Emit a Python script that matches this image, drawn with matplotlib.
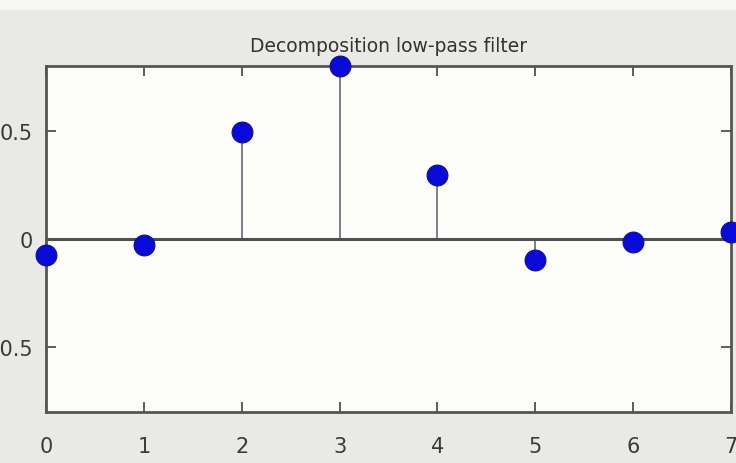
import numpy as np
import matplotlib.pyplot as plt
from matplotlib.patches import Rectangle

# sym4-like decomposition low-pass filter coefficients
taps = [0, 1, 2, 3, 4, 5, 6, 7]
coeffs = [-0.076, -0.030, 0.498, 0.804, 0.298, -0.099, -0.013, 0.032]
x_ticks = [0, 1, 2, 3, 4, 5, 6, 7]
y_ticks = [-0.5, 0, 0.5]
y_labels = ['-0.5', '0', '0.5']

fig = plt.figure(figsize=(7.36, 4.64), dpi=100)
fig.patch.set_facecolor('#e9e9e7')
# lighter strip along the very top of the frame
fig.patches.append(Rectangle((0, 1 - 11 / 464), 1, 11 / 464, transform=fig.transFigure,
                             facecolor='#f6f6f4', edgecolor='none', zorder=0))
ax = fig.add_axes([46 / 736, 1 - 413 / 464, 685 / 736, 346 / 464])
ax.set_facecolor('#fcfcf8')

markers, stems, base = ax.stem(taps, coeffs, basefmt='-')
plt.setp(stems, color='#7a7f8c', linewidth=1.4)
plt.setp(markers, color='#0a0ad8', markersize=15, markeredgecolor='#10108a',
         markeredgewidth=0.8, clip_on=False, zorder=5)
plt.setp(base, color='#505050', linewidth=2.2)

ax.set_xlim(0, 7)
ax.set_ylim(-0.8037, 0.8037)
ax.set_xticks(x_ticks)
ax.set_yticks(y_ticks)
ax.set_yticklabels(y_labels)

fam = ['DejaVu Sans Condensed', 'Liberation Sans Narrow', 'DejaVu Sans']
ax.tick_params(direction='in', length=7, width=1.3, color='#505050',
               top=True, right=True, labelsize=15, labelcolor='#3a3a3a')
ax.tick_params(axis='x', pad=17)
ax.tick_params(axis='y', pad=9.5)
for lab in ax.get_xticklabels() + ax.get_yticklabels():
    lab.set_family(fam)
for sp in ax.spines.values():
    sp.set_color('#555555')
    sp.set_linewidth(2)

ax.set_title('Decomposition low-pass filter', fontsize=13.5, color='#333333',
             family=fam, pad=11)

fig.savefig('out.png', dpi=100, facecolor=fig.get_facecolor())
